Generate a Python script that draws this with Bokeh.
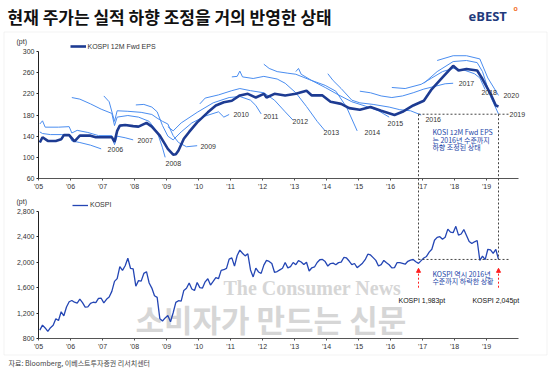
from bokeh.plotting import figure
from bokeh.models import (Range1d, FixedTicker, Label, Legend, LegendItem, Arrow,
                          NormalHead, NumeralTickFormatter, LinearAxis, BoxAnnotation)
from bokeh.embed import file_html
from bokeh.resources import INLINE

# ---------------- data ----------------
years = list(range(2005, 2020))
year_labels = ["'%02d" % (y - 2000) for y in years]
eps_ticks = [60, 100, 140, 180, 220, 260, 300]
kospi_ticks = [800, 1200, 1600, 2000, 2400, 2800]

# KOSPI 12M forward EPS (thick line)
eps_dates = ["2005-01", "2005-02", "2005-04", "2005-07", "2005-09", "2005-10", "2005-12",
             "2006-02", "2006-04", "2006-08", "2006-10", "2007-01", "2007-04", "2007-05",
             "2007-06", "2007-07", "2007-09", "2007-12", "2008-02", "2008-05", "2008-07",
             "2008-10", "2009-01", "2009-03", "2009-04", "2009-05", "2009-07", "2009-09",
             "2009-12", "2010-04", "2010-07", "2010-10", "2011-01", "2011-04", "2011-07",
             "2011-10", "2012-01", "2012-02", "2012-05", "2012-09", "2013-01", "2013-05",
             "2013-07", "2013-11", "2014-02", "2014-06", "2014-09", "2015-01", "2015-05",
             "2015-09", "2016-02", "2016-05", "2016-09", "2017-01", "2017-04", "2017-08",
             "2017-12", "2018-02", "2018-05", "2018-09", "2018-11", "2019-02", "2019-04",
             "2019-05"]
eps_values = [128, 138, 131, 131, 134, 142, 142, 130, 141, 141, 138, 138, 138, 129,
              150, 160, 161, 159, 158, 165, 158, 141, 116, 105, 106, 113, 135, 148,
              166, 185, 198, 204, 207, 217, 220, 213, 220, 213, 220, 217, 220, 226,
              217, 217, 205, 201, 193, 190, 195, 188, 180, 186, 198, 207, 229, 251,
              273, 264, 267, 264, 248, 220, 198, 196]

# consensus EPS for each calendar year (date, value)
fc2006 = [("2005-01", 148), ("2005-02", 145), ("2005-05", 143), ("2005-09", 143), ("2005-12", 142),
          ("2006-01", 131), ("2006-04", 128), ("2006-08", 123), ("2006-12", 116)]
fc2007 = [("2005-01", 163), ("2005-02", 169), ("2005-03", 157), ("2005-08", 157), ("2005-12", 158),
          ("2006-01", 146), ("2006-03", 151), ("2006-07", 147), ("2006-11", 141), ("2007-04", 141),
          ("2007-05", 124), ("2007-06", 140), ("2007-09", 137), ("2007-12", 133)]
fc2008 = [("2006-01", 213), ("2006-04", 210), ("2006-08", 201), ("2006-12", 191), ("2007-04", 183),
          ("2007-05", 160), ("2007-06", 176), ("2007-10", 179), ("2008-02", 176), ("2008-06", 168),
          ("2008-09", 148), ("2008-11", 118), ("2008-12", 100)]
fc2009 = [("2007-01", 216), ("2007-03", 205), ("2007-05", 168), ("2007-06", 188), ("2007-10", 187),
          ("2008-03", 185), ("2008-07", 181), ("2008-09", 174), ("2008-11", 168), ("2009-01", 163),
          ("2009-03", 141), ("2009-05", 128), ("2009-08", 120), ("2009-12", 122)]
fc2010 = [("2008-01", 199), ("2008-04", 200), ("2008-07", 195), ("2008-09", 186), ("2008-11", 160),
          ("2009-01", 140), ("2009-03", 133), ("2009-06", 148), ("2009-10", 165), ("2010-03", 178),
          ("2010-08", 186), ("2010-10", 176), ("2010-12", 181)]
fc2011 = [("2009-01", 158), ("2009-03", 150), ("2009-06", 165), ("2009-12", 185), ("2010-06", 203),
          ("2010-12", 213), ("2011-04", 215), ("2011-08", 208), ("2011-10", 198), ("2011-12", 182)]
fc2012 = [("2010-01", 201), ("2010-03", 212), ("2010-08", 218), ("2011-01", 226), ("2011-04", 230),
          ("2011-08", 226), ("2012-01", 222), ("2012-05", 208), ("2012-09", 186), ("2012-12", 170)]
fc2013 = [("2011-01", 252), ("2011-03", 253), ("2011-04", 263), ("2011-05", 252), ("2011-09", 249),
          ("2012-01", 253), ("2012-06", 248), ("2012-09", 240), ("2013-01", 222), ("2013-05", 196),
          ("2013-09", 168), ("2013-12", 150)]
fc2014 = [("2012-01", 276), ("2012-03", 268), ("2012-06", 262), ("2012-10", 259), ("2013-01", 257),
          ("2013-06", 247), ("2013-12", 236), ("2014-04", 225), ("2014-08", 195), ("2014-12", 150)]
fc2015 = [("2013-01", 262), ("2013-02", 268), ("2013-03", 257), ("2013-07", 245), ("2013-12", 232),
          ("2014-05", 218), ("2014-10", 205), ("2015-03", 197), ("2015-08", 188), ("2015-12", 176)]
fc2016 = [("2014-01", 258), ("2014-03", 245), ("2014-06", 230), ("2014-10", 208), ("2015-01", 203),
          ("2015-06", 200), ("2015-12", 195), ("2016-04", 190), ("2016-08", 188), ("2016-12", 180)]
fc2017 = [("2015-01", 225), ("2015-05", 222), ("2015-09", 216), ("2016-01", 213), ("2016-05", 216),
          ("2016-09", 222), ("2017-01", 229), ("2017-05", 234), ("2017-09", 239), ("2017-12", 240)]
fc2018 = [("2016-01", 232), ("2016-06", 230), ("2016-12", 238), ("2017-04", 250), ("2017-08", 262),
          ("2017-12", 268), ("2018-04", 265), ("2018-08", 258), ("2018-10", 250), ("2018-12", 228)]
fc2019 = [("2017-01", 240), ("2017-06", 262), ("2017-12", 281), ("2018-05", 283), ("2018-09", 279),
          ("2018-11", 262), ("2019-02", 215), ("2019-05", 182)]
fc2020 = [("2017-06", 283), ("2017-12", 292), ("2018-05", 292), ("2018-10", 286), ("2019-01", 250),
          ("2019-05", 217)]
fc_lines = [fc2006, fc2007, fc2008, fc2009, fc2010, fc2011, fc2012, fc2013, fc2014,
            fc2015, fc2016, fc2017, fc2018, fc2019, fc2020]
fc_label_text = ["2006", "2007", "2008", "2009", "2010", "2011", "2012", "2013", "2014",
                 "2015", "2016", "2017", "2018", "2019", "2020"]
fc_label_x = [2007.16, 2008.09, 2008.97, 2010.06, 2011.09, 2012.03, 2012.94, 2013.91,
              2015.19, 2015.91, 2017.09, 2018.13, 2018.84, 2019.72, 2019.53]
fc_label_y = [114.8, 131.8, 88.3, 120.5, 181.0, 177.2, 167.7, 146.9, 146.9, 163.9,
              171.5, 239.5, 222.5, 181.5, 216.8]

# KOSPI monthly close, 2005-01 .. 2019-05
kospi_start = (2005, 1)
kospi_values = [
    932, 1011, 966, 911, 970, 1008, 1111, 1083, 1221, 1158, 1297, 1379,
    1399, 1371, 1359, 1419, 1365, 1295, 1297, 1352, 1371, 1364, 1432, 1434,
    1360, 1417, 1452, 1542, 1700, 1743, 1933, 1873, 1946, 2064, 1906, 1897,
    1624, 1711, 1704, 1825, 1852, 1674, 1594, 1474, 1448, 1113, 1076, 1124,
    1162, 1063, 1206, 1369, 1395, 1390, 1557, 1591, 1673, 1580, 1555, 1682,
    1602, 1594, 1692, 1741, 1641, 1698, 1759, 1742, 1873, 1883, 1905, 2051,
    2069, 1939, 2107, 2192, 2142, 2101, 2133, 1880, 1770, 1909, 1848, 1826,
    1956, 2030, 2014, 1982, 1843, 1854, 1881, 1906, 1996, 1912, 1933, 1997,
    1962, 2027, 2005, 1964, 2001, 1863, 1914, 1926, 1997, 2040, 2045, 2011,
    1941, 1980, 1986, 1962, 1995, 2002, 2076, 2068, 2020, 1964, 1981, 1916,
    1949, 1986, 2041, 2127, 2115, 2074, 2030, 1941, 1963, 2029, 1992, 1961,
    1912, 1917, 1996, 1994, 1983, 1970, 2016, 2035, 2044, 2008, 1983, 2026,
    2068, 2092, 2160, 2205, 2347, 2392, 2403, 2363, 2394, 2523, 2476, 2467,
    2566, 2427, 2446, 2515, 2423, 2326, 2295, 2323, 2343, 2030, 2097, 2041,
    2205, 2195, 2141, 2204, 2045]

ref_dates = ["2016-11", "2019-05"]      # comparison points
eps_ref_level = 181.5                   # 2019 EPS back at its 2016 level
kospi_ref_level = 2045
kospi_arrow_from, kospi_arrow_to = 1600, 1905
ref_line_end = 2019.72

# ---------------- layout (window pixels; the page has no body margin) ----------------
W, H = 550, 370
OX, OY = 0, 0
X0_PX, PX_PER_YEAR = 38, 32.0          # '05 at x=38
TOP_PX = (51, 178)                     # top panel: 300 -> 51, 60 -> 178
BOT_PX = (211, 338)                    # bottom panel: 2800 -> 211, 800 -> 338

x_start = 2005 - (X0_PX - OX) / PX_PER_YEAR
x_end = x_start + W / PX_PER_YEAR
k1 = (300 - 60) / (TOP_PX[1] - TOP_PX[0])
k2 = (2800 - 800) / (BOT_PX[1] - BOT_PX[0])
y1_start = 60 - (OY + H - TOP_PX[1]) * k1
y1_end = 300 + (TOP_PX[0] - OY) * k1
y2_start = 800 - (OY + H - BOT_PX[1]) * k2
y2_end = 2800 + (BOT_PX[0] - OY) * k2
gap_top_in_kospi = 800 + (BOT_PX[1] - TOP_PX[1]) * k2   # kospi value at the top panel's axis


def sx(px):
    return px - OX


def sy(py):
    return OY + H - py


def dec(s):
    y, m = s.split("-")
    return int(y) + (int(m) - 0.5) / 12.0


kospi_x = [kospi_start[0] + (kospi_start[1] - 1 + i + 0.5) / 12.0 for i in range(len(kospi_values))]

FONT = "Liberation Sans"
KFONT = "Noto Sans CJK KR"
NAVY = "#1d3b92"
LIGHT = "#4a8df0"
KBLUE = "#2446b4"
TXT = "#333333"

p = figure(width=W, height=H, x_range=Range1d(x_start, x_end), y_range=Range1d(y1_start, y1_end),
           output_backend="svg", toolbar_location=None, min_border=0,
           x_axis_location=None, y_axis_location=None)
p.extra_y_ranges = {"kospi": Range1d(y2_start, y2_end)}
p.outline_line_color = None
p.grid.visible = False


def style(ax):
    ax.major_label_text_font = FONT
    ax.major_label_text_font_size = "7px"
    ax.major_label_text_color = TXT
    ax.minor_tick_line_color = None
    ax.major_tick_out = 2
    ax.major_tick_in = 0
    ax.major_label_standoff = 2
    return ax


def xaxis(**kw):
    ax = style(LinearAxis(bounds=(2005, 2020), ticker=FixedTicker(ticks=years), **kw))
    ax.major_label_overrides = {y: l for y, l in zip(years, year_labels)}
    ax.axis_line_color = "#555555"
    ax.major_tick_line_color = "#555555"
    p.add_layout(ax, "below")


def yaxis(**kw):
    ax = style(LinearAxis(fixed_location=2005, **kw))
    ax.axis_line_color = "#222222"
    ax.major_tick_line_color = "#222222"
    p.add_layout(ax, "left")
    return ax


xaxis(fixed_location=60)
xaxis(fixed_location=800, y_range_name="kospi")
yaxis(bounds=(60, 300), ticker=FixedTicker(ticks=eps_ticks))
ky = yaxis(bounds=(800, 2800), ticker=FixedTicker(ticks=kospi_ticks), y_range_name="kospi")
ky.formatter = NumeralTickFormatter(format="0,0")


def label(x, y, text, size="7px", color=TXT, font=FONT, units="data", **kw):
    p.add_layout(Label(x=x, y=y, x_units=units, y_units=units, text=text,
                       text_font=font, text_font_size=size, text_color=color,
                       text_baseline=kw.pop("baseline", "middle"), **kw))

# frame box, header, footer
p.add_layout(BoxAnnotation(left=sx(3.5), right=sx(546.5), top=sy(31.5), bottom=sy(354.5),
                           left_units="screen", right_units="screen", top_units="screen",
                           bottom_units="screen", fill_alpha=0, line_color="#d4d4d4",
                           line_width=1, level="underlay"))
label(sx(7), sy(3), "현재 주가는 실적 하향 조정을 거의 반영한 상태", size="17px",
      color="#111111", font=KFONT, units="screen", text_font_style="bold", baseline="top")
label(sx(468), sy(15), "eBEST", size="13px", color="#1f3a7c", font="Open Sans",
      units="screen", text_font_style="bold")
label(sx(513), sy(8), "o", size="7px", color="#f26a1b", font=FONT, units="screen",
      text_font_style="bold")
label(sx(8), sy(362.5), "자료: Bloomberg, 이베스트투자증권 리서치센터", size="7px",
      color="#444444", font=KFONT, units="screen")

# watermark
label(2010.78, 1603, "The Consumer News", size="20px", color="#d6d6d6",
      font="Liberation Serif", text_font_style="bold", level="underlay", y_range_name="kospi")
label(2008.03, 1115, "소비자가 만드는 신문", size="31px", color="#d6d6d6",
      font=KFONT, text_font_style="bold", level="underlay", y_range_name="kospi")

# ---------------- top panel ----------------
for fc in fc_lines:
    p.line([dec(d) for d, v in fc], [v for d, v in fc], line_color=LIGHT, line_width=1)
eps_r = p.line([dec(d) for d in eps_dates], eps_values, line_color=NAVY, line_width=2.6)

for t, x, y in zip(fc_label_text, fc_label_x, fc_label_y):
    label(x, y, t)

rx = [dec(d) for d in ref_dates]
p.add_layout(Arrow(end=None, x_start=rx[0], y_start=eps_ref_level, x_end=ref_line_end,
                   y_end=eps_ref_level, line_dash="2 2", line_color="#444444", line_width=1))
for x in rx:
    p.add_layout(Arrow(end=None, x_start=x, y_start=eps_ref_level, x_end=x, y_end=60,
                       line_dash="2 2", line_color="#444444", line_width=1))

for i, t in enumerate(["KOSI 12M Fwd EPS", "는 2016년 수준까지", "하향 조정된 상태"]):
    label(2017.31, 147.5 - 14.2 * i, t, size="7px", color="#1c46a8", font=KFONT)

label(sx(16), sy(40.5), "(pt)", units="screen")
p.add_layout(Legend(items=[LegendItem(label="KOSPI 12M Fwd EPS", renderers=[eps_r])],
                    location=(sx(69.5), sy(50)), padding=0, margin=0, spacing=0,
                    glyph_width=16, glyph_height=8, label_standoff=2,
                    label_text_font=FONT, label_text_font_size="7px",
                    label_text_color=TXT, label_height=8,
                    border_line_color=None, background_fill_alpha=0))

# ---------------- bottom panel ----------------
k_r = p.line(kospi_x, kospi_values, line_color=KBLUE, line_width=1.3, y_range_name="kospi")

p.add_layout(Arrow(end=None, x_start=rx[0], y_start=kospi_ref_level, x_end=ref_line_end,
                   y_end=kospi_ref_level, line_dash="2 2", line_color="#444444",
                   line_width=1, y_range_name="kospi"))
for x in rx:
    p.add_layout(Arrow(end=None, x_start=x, y_start=gap_top_in_kospi, x_end=x,
                       y_end=kospi_ref_level, line_dash="2 2", line_color="#444444",
                       line_width=1, y_range_name="kospi"))
    p.add_layout(Arrow(end=NormalHead(size=4, fill_color="#ff2020", line_color="#ff2020"),
                       x_start=x, y_start=kospi_arrow_from, x_end=x, y_end=kospi_arrow_to,
                       line_dash="2 2", line_color="#ff2020", line_width=1,
                       y_range_name="kospi"))

label(2017.31, 1819, "KOSPI 역시 2016년", color="#1c46a8", font=KFONT, y_range_name="kospi")
label(2017.31, 1713, "수준까지 하락한 상황", color="#1c46a8", font=KFONT, y_range_name="kospi")
label(2016.25, 1398, "KOSPI 1,983pt", color="#111111", y_range_name="kospi")
label(2018.56, 1398, "KOSPI 2,045pt", color="#111111", y_range_name="kospi")

label(sx(16), sy(200.5), "(pt)", units="screen")
p.add_layout(Legend(items=[LegendItem(label="KOSPI", renderers=[k_r])],
                    location=(sx(72), sy(208.5)), padding=0, margin=0, spacing=0,
                    glyph_width=16, glyph_height=8, label_standoff=2,
                    label_text_font=FONT, label_text_font_size="7px",
                    label_text_color=TXT, label_height=8,
                    border_line_color=None, background_fill_alpha=0))

open("out.html", "w").write(file_html(p, INLINE))
